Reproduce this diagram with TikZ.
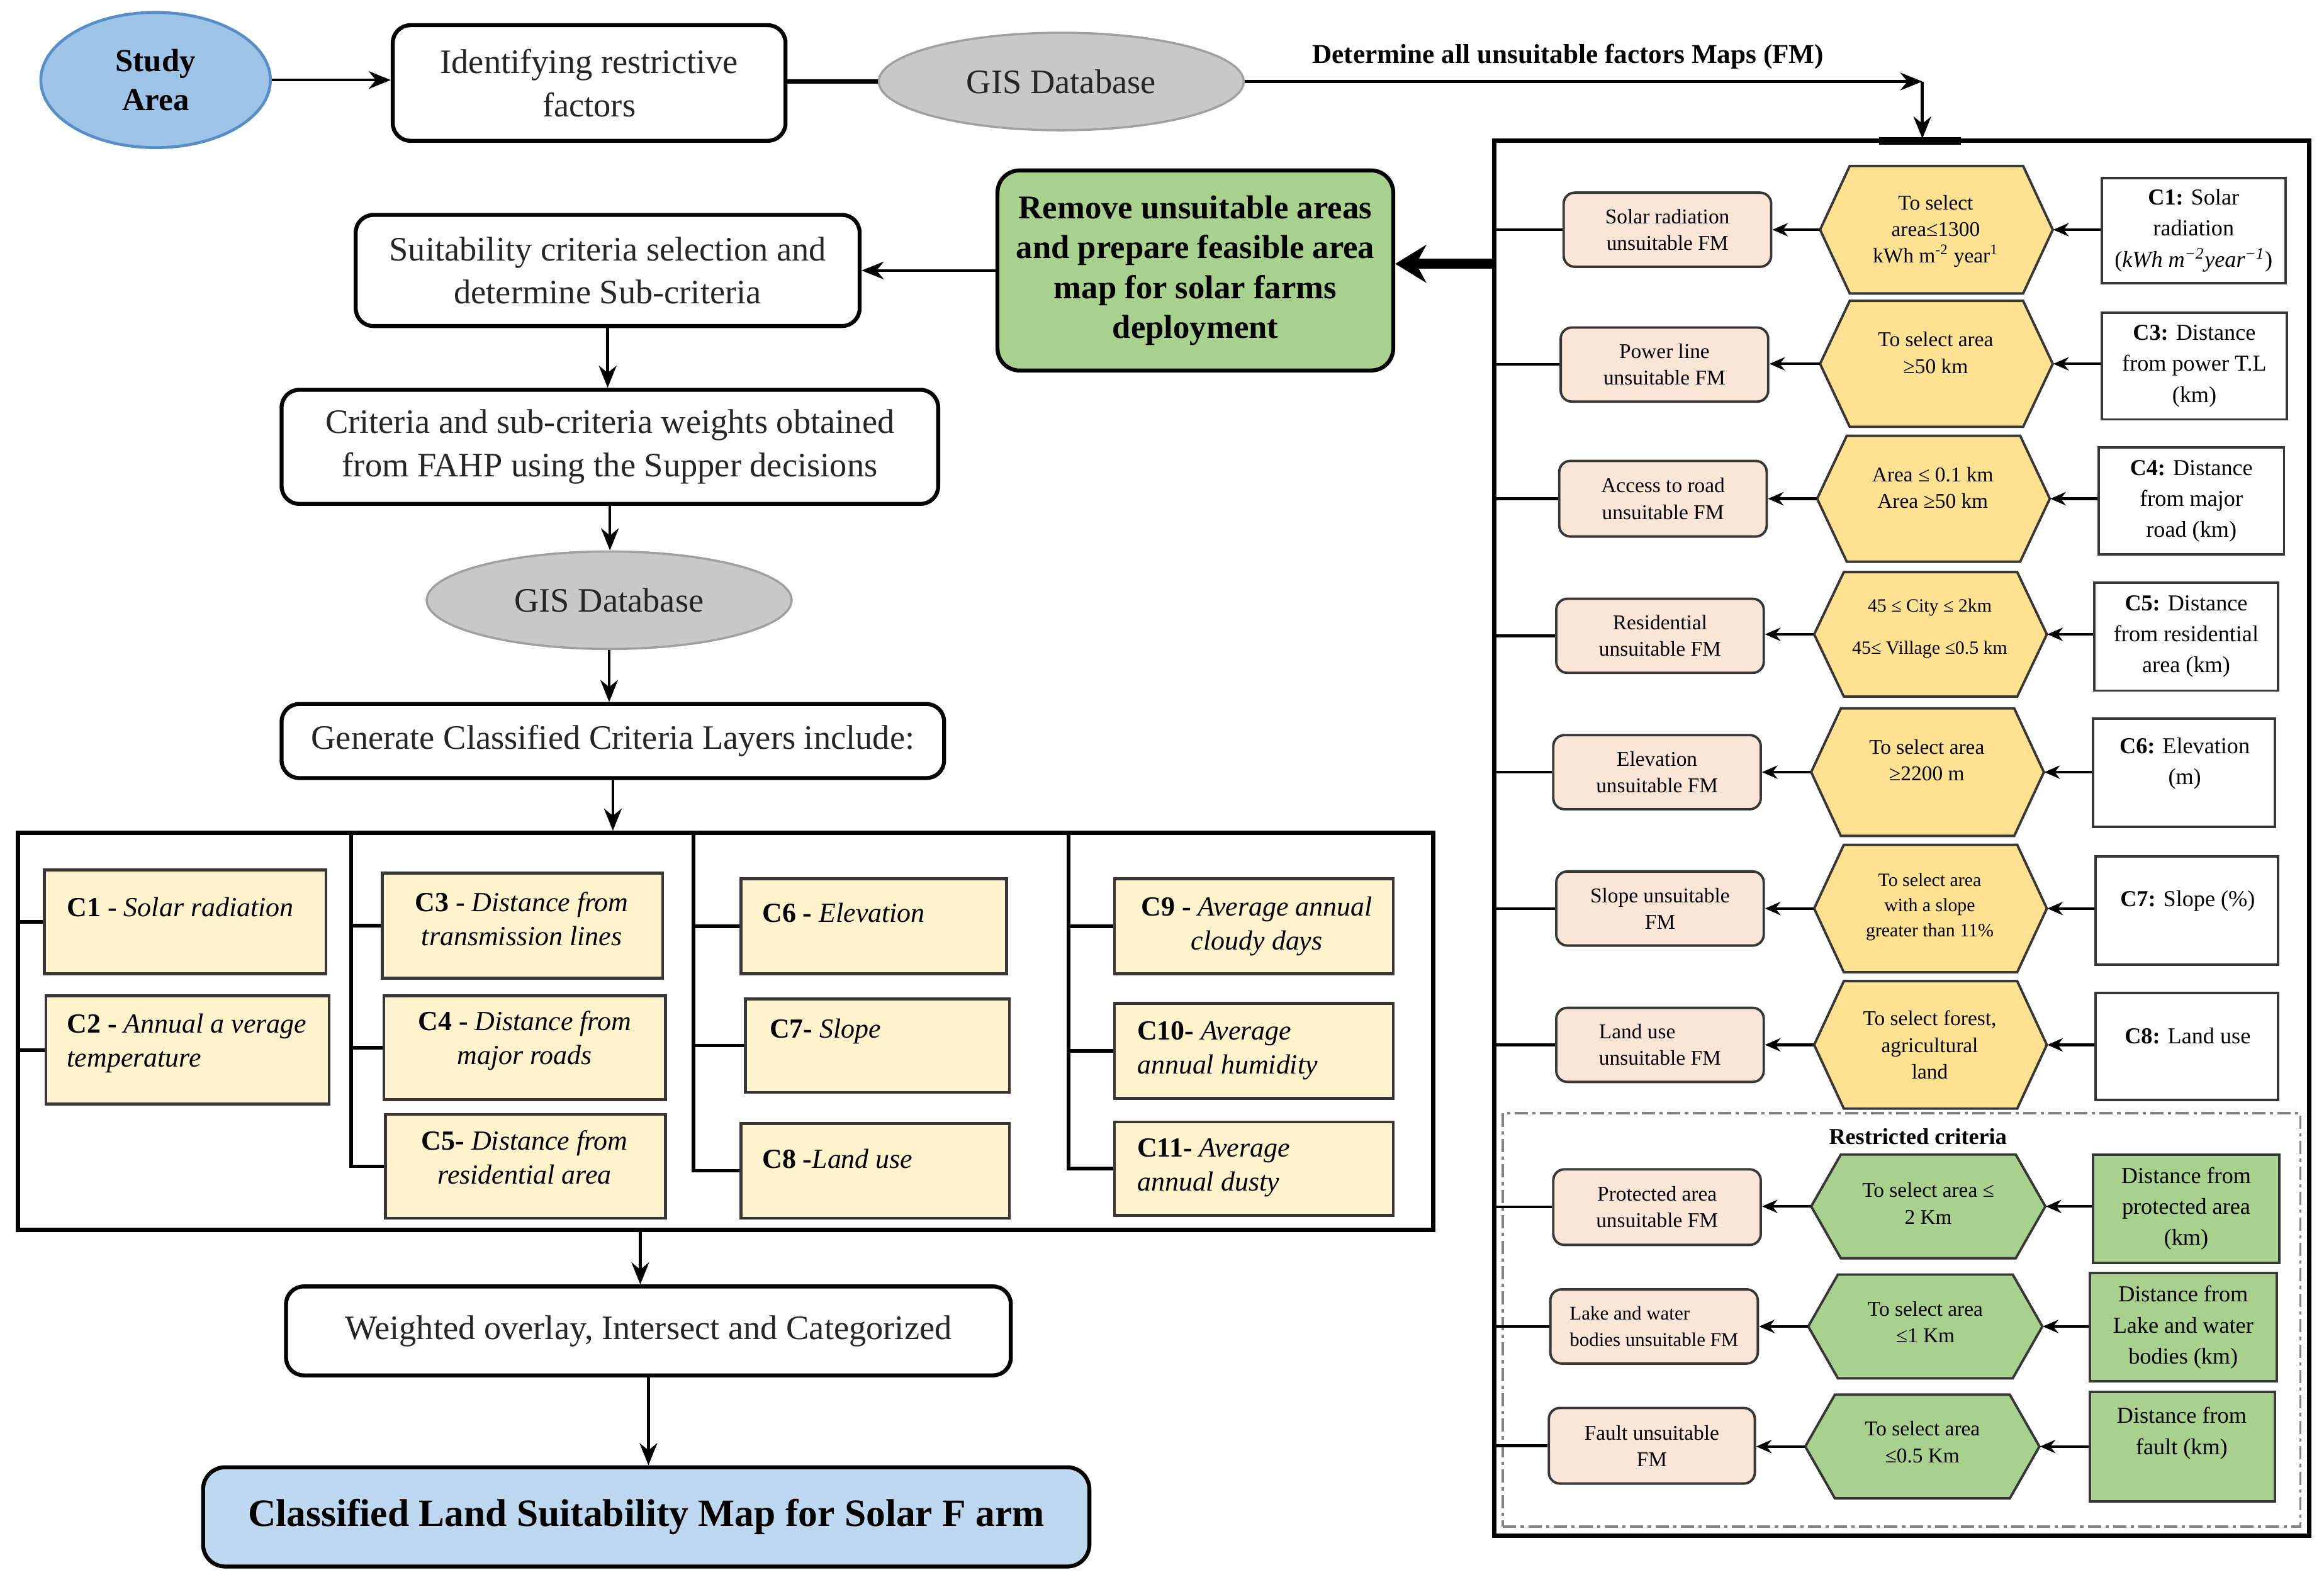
\documentclass[tikz,border=0pt]{standalone}
\usepackage{fontspec}
\setmainfont{Liberation Serif}
\usetikzlibrary{arrows.meta,fit,shapes.geometric,calc}

\definecolor{studyblue}{RGB}{157,195,230}
\definecolor{studyedge}{RGB}{85,142,200}
\definecolor{gisgray}{RGB}{200,200,200}
\definecolor{gisedge}{RGB}{160,160,160}
\definecolor{feasgreen}{RGB}{169,209,142}
\definecolor{finalblue}{RGB}{189,215,238}
\definecolor{pinkfm}{RGB}{251,229,214}
\definecolor{hexyellow}{RGB}{255,226,145}
\definecolor{critfill}{RGB}{255,242,204}
\definecolor{edgegray}{RGB}{55,55,55}
\definecolor{dashgray}{RGB}{130,130,130}

\newcommand\mainsz{\fontsize{15.5}{19.5}\selectfont}
\newcommand\studysz{\fontsize{14.5}{17.5}\selectfont}
\newcommand\feassz{\fontsize{15}{18}\selectfont}
\newcommand\detsz{\fontsize{12.3}{14}\selectfont}
\newcommand\finalsz{\fontsize{17.5}{20}\selectfont}
\newcommand\critsz{\fontsize{12.5}{15.3}\selectfont}
\newcommand\pinksz{\fontsize{9.5}{12}\selectfont}
\newcommand\hexsz{\fontsize{9.5}{12}\selectfont}
\newcommand\whitesz{\fontsize{10.3}{14}\selectfont}

\tikzset{
  flowbox/.style={draw=black, line width=1.8pt, rounded corners=8pt, fill=white,
    inner sep=0pt, align=center, font=\mainsz, text=black!85},
  gisell/.style={ellipse, draw=gisedge, line width=1pt, fill=gisgray, minimum width=5.8cm,
    minimum height=1.55cm, font=\mainsz, text=black!85, inner sep=0pt},
  arr/.style={line width=1.3pt, -{Stealth[length=10pt,width=8pt]}},
  plainline/.style={line width=1.8pt},
  thickarr/.style={line width=4.5pt, -{Stealth[length=14pt,width=17pt]}},
  bigframe/.style={draw=black, line width=2pt, inner sep=0pt},
  branch/.style={line width=1.6pt},
  critbox/.style={draw=edgegray, line width=1.3pt, fill=critfill, inner sep=0pt},
  crittext/.style={font=\critsz, inner sep=0pt},
  pinkbox/.style={draw=edgegray, line width=1.1pt, rounded corners=5pt, fill=pinkfm,
    inner sep=0pt, align=center, font=\pinksz},
  hexline/.style={draw=edgegray, line width=1.1pt},
  hextext/.style={font=\hexsz, align=center, inner sep=0pt},
  whitebox/.style={draw=edgegray, line width=1.1pt, fill=white, inner sep=0pt,
    align=center, font=\whitesz},
  greenbox/.style={draw=edgegray, line width=1.1pt, fill=feasgreen, inner sep=0pt,
    align=center, font=\whitesz},
  rarr/.style={line width=1.2pt, -{Stealth[length=7pt,width=6pt]}},
  rline/.style={line width=1.2pt}
}

% box from corners: [style]{name}{x1}{y1}{x2}{y2} followed by {text};
\newcommand\placebox[6][]{%
  \node[#1, minimum width={(#5-#3)*0.0235523cm}, minimum height={(#6-#4)*0.0235523cm}]
    (#2) at ({(#3+#5)/2},{(#4+#6)/2})}

% hexagon: name, x1, y1, x2, y2, fill
\newcommand\hexpath[6]{%
  \path[hexline, fill=#6] (#2,{(#3+#5)/2}) -- ({#2+20},#3) -- ({#4-20},#3)
     -- (#4,{(#3+#5)/2}) -- ({#4-20},#5) -- ({#2+20},#5) -- cycle;
  \placebox[inner sep=0pt]{#1}{#2}{#3}{#4}{#5} {};}

\begin{document}
\begin{tikzpicture}[x=0.0235523cm, y=-0.0235523cm]
\useasboundingbox (0,0) rectangle (1568,1070.5);

% ---------------- top row ----------------
\node[ellipse, draw=studyedge, line width=1.3pt, fill=studyblue, minimum width=3.65cm,
  minimum height=2.15cm, font=\bfseries\studysz, align=center, inner sep=0pt] (study) at (105,54) {Study\\Area};
\placebox[flowbox]{ident}{265}{17}{530}{95} {Identifying restrictive\\factors};
\node[gisell] (gis1) at (716,55) {GIS Database};
\node[font=\bfseries\detsz, inner sep=0pt] (detlab) at (1058,38) {Determine all unsuitable factors Maps (FM)};
\coordinate (corner) at (1297,55);

\draw[arr] (study.east) -- (study.east -| ident.west);
\draw[plainline] (ident.east |- gis1.west) -- (gis1.west);
\draw[arr] (gis1.east) -- (corner);

% ---------------- right panel ----------------
\node[bigframe, fit={(1008,95) (1558,1036)}] (rightbox) {};
\draw[line width=3.5pt] (1268,95) -- (1323,95);
\draw[arr] (corner) -- (corner |- rightbox.north);

\node[draw=dashgray, line width=1pt, dash pattern=on 6pt off 2pt on 1.5pt off 2pt,
  fit={(1014,751) (1552,1030)}, inner sep=0pt] (restr) {};
\node[font=\bfseries\whitesz, inner sep=0pt] (restrlab) at (1294,767) {Restricted criteria};

% row 1
\placebox[pinkbox]{p1}{1055}{130}{1195}{180} {Solar radiation\\unsuitable FM};
\hexpath{h1}{1228}{112}{1385}{198}{hexyellow}
\node[hextext] (h1t) at (1306,156) {To select\\area≤1300\\kWh m\textsuperscript{-2} year\textsuperscript{1}};
\placebox[whitebox]{w1}{1418}{120}{1542}{191} {\textbf{C1:} Solar\\radiation\\(\textit{kWh m\textsuperscript{−2}year\textsuperscript{−1}})};
% row 2
\placebox[pinkbox]{p2}{1053}{221}{1193}{271} {Power line\\unsuitable FM};
\hexpath{h2}{1228}{203}{1385}{288}{hexyellow}
\node[hextext] (h2t) at (1306,238) {To select area\\≥50 km};
\placebox[whitebox]{w2}{1418}{211}{1543}{283} {\textbf{C3:} Distance\\from power T.L\\(km)};
% row 3
\placebox[pinkbox]{p3}{1052}{311}{1192}{362} {Access to road\\unsuitable FM};
\hexpath{h3}{1226}{294}{1383}{379}{hexyellow}
\node[hextext] (h3t) at (1304,329) {Area ≤ 0.1 km\\Area ≥50 km};
\placebox[whitebox]{w3}{1416}{302}{1541}{374} {\textbf{C4:} Distance\\from major\\road (km)};
% row 4
\placebox[pinkbox]{p4}{1050}{404}{1190}{454} {Residential\\unsuitable FM};
\hexpath{h4}{1224}{386}{1381}{470}{hexyellow}
\node[hextext, font=\fontsize{8.5}{11}\selectfont] (h4t) at (1302,424) {45 ≤ City ≤ 2km\\[8pt]45≤ Village ≤0.5 km};
\placebox[whitebox]{w4}{1413}{393}{1537}{466} {\textbf{C5:} Distance\\from residential\\area (km)};
% row 5
\placebox[pinkbox]{p5}{1048}{496}{1188}{546} {Elevation\\unsuitable FM};
\hexpath{h5}{1222}{478}{1379}{564}{hexyellow}
\node[hextext] (h5t) at (1300,513) {To select area\\≥2200 m};
\placebox[whitebox]{w5}{1412}{485}{1535}{558} {};
\node[font=\whitesz, align=center, inner sep=0pt] (w5t) at (1474,515) {\textbf{C6:} Elevation\\(m)};
% row 6
\placebox[pinkbox]{p6}{1050}{588}{1190}{638} {Slope unsuitable\\FM};
\hexpath{h6}{1224}{570}{1381}{656}{hexyellow}
\node[hextext, font=\fontsize{8.5}{11.3}\selectfont] (h6t) at (1302,612) {To select area\\with a slope\\greater than 11\%};
\placebox[whitebox]{w6}{1414}{578}{1537}{651} {};
\node[font=\whitesz, inner sep=0pt] (w6t) at (1476,608) {\textbf{C7:} Slope (\%)};
% row 7
\placebox[pinkbox, align=left]{p7}{1050}{680}{1190}{730} {Land use\\unsuitable FM};
\hexpath{h7}{1224}{662}{1381}{748}{hexyellow}
\node[hextext] (h7t) at (1302,705) {To select forest,\\agricultural\\land};
\placebox[whitebox]{w7}{1414}{670}{1537}{742} {};
\node[font=\whitesz, inner sep=0pt] (w7t) at (1476,699) {\textbf{C8:} Land use};
% row 8
\placebox[pinkbox]{p8}{1048}{789}{1188}{840} {Protected area\\unsuitable FM};
\hexpath{h8}{1222}{779}{1380}{849}{feasgreen}
\node[hextext] (h8t) at (1301,812) {To select area ≤\\2 Km};
\placebox[greenbox]{g8}{1412}{779}{1538}{852} {Distance from\\protected area\\(km)};
% row 9
\placebox[pinkbox, align=left, font=\fontsize{8.8}{12}\selectfont]{p9}{1046}{870}{1186}{920} {Lake and water\\bodies unsuitable FM};
\hexpath{h9}{1220}{860}{1378}{930}{feasgreen}
\node[hextext] (h9t) at (1299,892) {To select area\\≤1 Km};
\placebox[greenbox]{g9}{1410}{859}{1536}{932} {Distance from\\Lake and water\\bodies (km)};
% row 10
\placebox[pinkbox]{p10}{1045}{950}{1184}{1001} {Fault unsuitable\\FM};
\hexpath{h10}{1218}{941}{1376}{1011}{feasgreen}
\node[hextext] (h10t) at (1297,973) {To select area\\≤0.5 Km};
\placebox[greenbox]{g10}{1410}{939}{1535}{1013} {};
\node[font=\whitesz, align=center, inner sep=0pt] (g10t) at (1472,967) {Distance from\\fault (km)};

% right panel connectors
\foreach \r/\w in {1/w1,2/w2,3/w3,4/w4,5/w5,6/w6,7/w7,8/g8,9/g9,10/g10}{
  \draw[rarr] (\w.west |- h\r.east) -- (h\r.east);
  \draw[rarr] (h\r.west) -- (h\r.west -| p\r.east);
  \draw[rline] (p\r.west) -- (p\r.west -| rightbox.west);
}

% ---------------- left flow ----------------
\placebox[draw=black, line width=1.8pt, rounded corners=10pt, fill=feasgreen, inner sep=0pt,
  align=center, font=\bfseries\feassz]{feas}{673}{115}{940}{250} {Remove unsuitable areas\\and prepare feasible area\\map for solar farms\\deployment};
\coordinate (thk) at (1008,178);
\draw[thickarr] (thk) -- (thk -| feas.east);

\placebox[flowbox]{suit}{240}{145}{580}{220} {Suitability criteria selection and\\determine Sub-criteria};
\draw[arr] (feas.west) -- (feas.west -| suit.east);

\placebox[flowbox]{critw}{190}{263}{633}{340} {Criteria and sub-criteria weights obtained\\from FAHP using the Supper decisions};
\draw[arr] (suit.south) -- (suit.south |- critw.north);

\node[gisell] (gis2) at (411,405) {GIS Database};
\draw[arr] (critw.south) -- (critw.south |- gis2.north);

\placebox[flowbox]{gen}{190}{475}{637}{525} {Generate Classified Criteria Layers include:};
\draw[arr] (gis2.south) -- (gis2.south |- gen.north);

% criteria frame
\node[bigframe, fit={(12,562) (967,830)}] (critbox) {};
\draw[arr] (gen.south) -- (gen.south |- critbox.north);

\node[critbox, fit={(30,587) (220,657)}] (c1) {};
\node[crittext, anchor=west] (c1t) at (45,612) {\textbf{C1 -} \textit{Solar radiation}};
\node[critbox, fit={(31,672) (222,745)}] (c2) {};
\node[crittext, anchor=west, align=left] (c2t) at (45,704) {\textbf{C2 -} \textit{Annual a verage}\\\textit{temperature}};
\node[critbox, fit={(258,589) (447,660)}] (c3) {};
\node[crittext, align=center] (c3t) at (352,620) {\textbf{C3 -} \textit{Distance from}\\\textit{transmission lines}};
\node[critbox, fit={(259,672) (449,742)}] (c4) {};
\node[crittext, align=center] (c4t) at (354,702) {\textbf{C4 -} \textit{Distance from}\\\textit{major roads}};
\node[critbox, fit={(260,752) (449,822)}] (c5) {};
\node[crittext, align=center] (c5t) at (354,781) {\textbf{C5-} \textit{Distance from}\\\textit{residential area}};
\node[critbox, fit={(500,593) (679,657)}] (c6) {};
\node[crittext, anchor=west] (c6t) at (514,616) {\textbf{C6 -} \textit{Elevation}};
\node[critbox, fit={(503,674) (681,737)}] (c7) {};
\node[crittext, anchor=west] (c7t) at (519,696) {\textbf{C7-} \textit{Slope}};
\node[critbox, fit={(500,758) (681,822)}] (c8) {};
\node[crittext, anchor=west] (c8t) at (514,782) {\textbf{C8 -}\textit{Land use}};
\node[critbox, fit={(752,593) (940,657)}] (c9) {};
\node[crittext, align=center] (c9t) at (848,625) {\textbf{C9 -} \textit{Average annual}\\\textit{cloudy days}};
\node[critbox, fit={(752,677) (940,741)}] (c10) {};
\node[crittext, anchor=west, align=left] (c10t) at (767,709) {\textbf{C10-} \textit{Average}\\\textit{annual humidity}};
\node[critbox, fit={(752,757) (940,820)}] (c11) {};
\node[crittext, anchor=west, align=left] (c11t) at (767,788) {\textbf{C11-} \textit{Average}\\\textit{annual dusty}};

% branches
\draw[branch] (c1.west) -- (c1.west -| critbox.west);
\draw[branch] (c2.west) -- (c2.west -| critbox.west);
\coordinate (v2) at (237,562);
\coordinate (v3) at (468,562);
\coordinate (v4) at (721,562);
\draw[branch] (v2) |- (c5.west);
\draw[branch] (c3.west) -- (c3.west -| v2);
\draw[branch] (c4.west) -- (c4.west -| v2);
\draw[branch] (v3) |- (c8.west);
\draw[branch] (c6.west) -- (c6.west -| v3);
\draw[branch] (c7.west) -- (c7.west -| v3);
\draw[branch] (v4) |- (c11.west);
\draw[branch] (c9.west) -- (c9.west -| v4);
\draw[branch] (c10.west) -- (c10.west -| v4);

% bottom
\placebox[flowbox]{weighted}{193}{868}{682}{928} {Weighted overlay, Intersect and Categorized};
\coordinate (cbout) at (432,830);
\draw[arr] (cbout) -- (cbout |- weighted.north);

\placebox[draw=black, line width=1.8pt, rounded corners=10pt, fill=finalblue, inner sep=0pt,
  font=\bfseries\finalsz]{final}{137}{990}{735}{1057} {Classified Land Suitability Map for Solar F arm};
\draw[arr] (weighted.south) -- (weighted.south |- final.north);

\end{tikzpicture}
\end{document}
